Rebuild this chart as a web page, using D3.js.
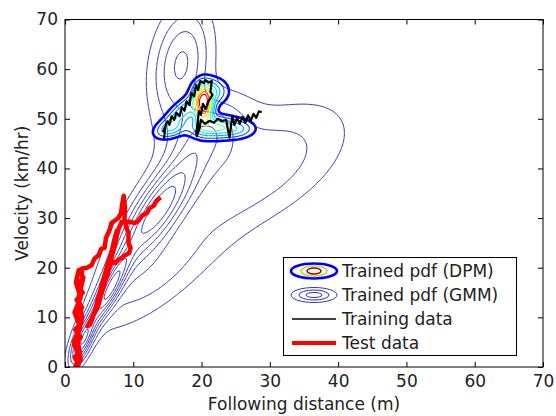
<!DOCTYPE html>
<html><head><meta charset="utf-8">
<script src="https://cdn.jsdelivr.net/npm/d3@7"></script>
<style>body{margin:0;background:#fff} text{font-family:"DejaVu Sans",sans-serif;fill:#222}</style>
</head><body><svg id="c" width="556" height="416"></svg>
<script>
// ---------- data ----------
const xTicks = [0, 10, 20, 30, 40, 50, 60, 70];
const yTicks = [0, 10, 20, 30, 40, 50, 60, 70];
const xLabel = "Following distance (m)";
const yLabel = "Velocity (km/hr)";
const legendLabels = ["Trained pdf (DPM)", "Trained pdf (GMM)", "Training data", "Test data"];

// GMM components (peak height, mean, spread, correlation)
const gmmMeanX = [2.5, 6.5, 13.5, 13.0, 28.0, 17.0, 21.0];
const gmmMeanY = [5.0, 15.5, 31.5, 18.0, 40.0, 61.0, 48.0];
const gmmSdX   = [1.3, 2.0, 4.2, 7.0, 9.0, 3.0, 4.0];
const gmmSdY   = [3.5, 5.0, 8.0, 8.0, 9.0, 8.0, 5.0];
const gmmRho   = [0.7, 0.85, 0.8, 0.75, 0.55, 0.25, 0.3];
const gmmPeak  = [0.6, 0.65, 0.7, 0.22, 0.28, 0.42, 0.25];
const gmmLevels = [0.1, 0.2, 0.3, 0.4, 0.5, 0.6, 0.7, 0.8];

// DPM components
const dpmMeanX = [20.3, 21.2, 17.5, 15.5, 21.5, 25.0];
const dpmMeanY = [52.8, 55.5, 51.5, 48.0, 48.3, 48.0];
const dpmSdX   = [0.8, 1.4, 1.8, 1.3, 2.0, 1.6];
const dpmSdY   = [2.2, 1.5, 2.2, 1.1, 1.3, 1.1];
const dpmRho   = [0.0, 0.0, 0.75, 0.3, 0.0, 0.0];
const dpmPeak  = [1.0, 0.3, 0.3, 0.22, 0.4, 0.2];
const dpmLevels = [0.04, 0.1, 0.18, 0.27, 0.37, 0.5, 0.64, 0.78, 0.92];
const dpmColors = ["#0000ff", "#0050ff", "#00a8ff", "#00e8ff", "#60ffa0", "#c0ff40", "#ffd000", "#ff6000", "#e00000"];

// training data (black)
const trainX = [14.5,14.7,14.4,15.0,15.3,15.6,16.0,16.3,16.8,17.1,17.5,17.8,18.2,18.5,18.9,19.2,19.5,19.8,20.3,20.6,21.0,21.5,21.3,21.6,21.0,20.6,20.2,19.9,19.6,19.4,19.2,19.5,19.3,19.7,19.9,20.5,21.2,21.8,22.4,23.0,23.6,23.9,24.1,24.3,24.5,24.8,25.2,25.6,26.0,26.4,26.8,27.2,27.6,28.0,28.4,28.8];
const trainY = [46.0,48.5,47.5,49.5,48.8,50.5,49.8,51.2,50.5,52.3,51.6,53.5,52.8,55.2,54.5,56.8,55.8,57.6,57.2,57.8,57.3,57.6,55.5,54.8,53.5,52.0,53.0,50.8,51.5,49.0,47.0,49.5,46.5,48.0,49.8,49.0,49.6,49.2,50.0,49.5,49.8,47.5,46.2,48.5,50.5,48.8,50.2,49.0,50.4,49.2,50.7,49.6,51.0,50.2,51.5,51.3];

// test data (red)
const testX = [1.3,2.0,1.4,2.2,1.3,2.3,1.5,2.4,1.6,2.5,1.7,2.6,1.8,2.7,2.0,1.6,2.3,1.4,2.2,1.3,2.1,1.6,2.3,1.8,2.5,2.0,2.6,2.4,3.2,3.9,4.3,4.9,5.3,5.8,6.0,6.5,6.8,7.3,7.8,8.2,8.4,8.6,8.8,8.7,9.0,9.3,9.3,9.6,9.4,8.8,8.3,7.8,7.4,6.9,6.5,6.2,5.8,5.4,5.0,4.7,4.3,3.8,3.3,3.7,4.2,4.8,5.2,5.6,6.0,6.3,6.6,7.0,7.3,7.6,7.2,6.8,6.3,5.9,5.5,5.1,4.7,4.5,5.0,5.5,6.0,6.5,6.9,7.3,7.6,7.9,8.3,8.9,9.5,10.2,10.8,11.3,12.0,12.4,13.0,13.4,14.0];
const testY = [0,0.5,2,3,4.5,6,7.5,9,10.5,12,13.5,15,16.5,18,19.5,17,14,11,8,5,2,0.3,1.5,6,10,14,17.5,19.8,20,20.5,21.8,22.5,23.8,24,26,27.5,29,29.5,30,31,33,34.5,32,30,28,27,25,24,23,22.5,22,21.5,21,21.2,20.2,18.5,17,15.5,14,12.5,11,9.5,8.2,8.6,10.5,12,14,16,18,20,22,24,26,27.5,25.5,23,21,19,17,15,13,11.5,13,15.5,18,20.5,22.5,24.5,26.5,28,29.2,29,29.3,29,29.5,30.5,31,32,32.5,33.5,34.2];

// ---------- layout ----------
const svg = d3.select("#c");
const L = 65, R = 543, T = 19.5, B = 367;
const x = d3.scaleLinear().domain([0, 70]).range([L, R]);
const y = d3.scaleLinear().domain([0, 70]).range([B, T]);

svg.append("defs").append("clipPath").attr("id", "clip")
  .append("rect").attr("x", L).attr("y", T).attr("width", R - L).attr("height", B - T);

function mixture(mx, my, sx, sy, rho, h) {
  return (px, py) => {
    let s = 0;
    for (let i = 0; i < mx.length; i++) {
      const dx = (px - mx[i]) / sx[i], dy = (py - my[i]) / sy[i], r = rho[i];
      const q = (dx * dx - 2 * r * dx * dy + dy * dy) / (1 - r * r);
      s += h[i] * Math.exp(-q / 2);
    }
    return s;
  };
}
const g0 = -10, step = 0.25, n = Math.round((90 - g0) / step) + 1;
function gridContours(f, levels) {
  const vals = new Float64Array(n * n);
  for (let j = 0; j < n; j++) for (let i = 0; i < n; i++) vals[j * n + i] = f(g0 + i * step, g0 + j * step);
  return d3.contours().size([n, n]).thresholds(levels)(vals);
}
const proj = d3.geoTransform({
  point(gx, gy) { this.stream.point(x(g0 + (gx - 0.5) * step), y(g0 + (gy - 0.5) * step)); }
});
const path = d3.geoPath(proj);

const plot = svg.append("g").attr("clip-path", "url(#clip)");

const gmmC = gridContours(mixture(gmmMeanX, gmmMeanY, gmmSdX, gmmSdY, gmmRho, gmmPeak), gmmLevels);
plot.append("g").selectAll("path").data(gmmC).join("path")
  .attr("d", path).attr("fill", "none").attr("stroke", "#3333b4").attr("stroke-width", 1);

const dpmC = gridContours(mixture(dpmMeanX, dpmMeanY, dpmSdX, dpmSdY, dpmRho, dpmPeak), dpmLevels);
plot.append("g").selectAll("path").data(dpmC).join("path")
  .attr("d", path).attr("fill", "none")
  .attr("stroke", (d, i) => dpmColors[i])
  .attr("stroke-width", (d, i) => i === 0 ? 2.6 : 1.1);

const line = d3.line().x(d => x(d[0])).y(d => y(d[1]));
plot.append("path").datum(trainX.map((v, i) => [v, trainY[i]]))
  .attr("d", line).attr("fill", "none").attr("stroke", "#000").attr("stroke-width", 2.2).attr("stroke-linejoin", "round");
plot.append("path").datum(testX.map((v, i) => [v, testY[i]]))
  .attr("d", line).attr("fill", "none").attr("stroke", "#ff0000").attr("stroke-width", 4.5).attr("stroke-linejoin", "round");

// axes
const fs = "17px";
const style = g => { g.select(".domain").remove(); g.selectAll("line").attr("stroke", "#000");
  g.selectAll("text").attr("font-size", fs).attr("fill", "#222").attr("font-family", "DejaVu Sans"); };
svg.append("g").attr("transform", `translate(0,${B})`)
  .call(d3.axisBottom(x).tickValues(xTicks).tickSizeInner(-5).tickSizeOuter(0).tickPadding(8)).call(style);
svg.append("g").attr("transform", `translate(${L},0)`)
  .call(d3.axisLeft(y).tickValues(yTicks).tickSizeInner(-5).tickSizeOuter(0).tickPadding(7)).call(style);
svg.append("g").attr("transform", `translate(0,${T})`)
  .call(d3.axisTop(x).tickValues(xTicks).tickSizeInner(-5).tickSizeOuter(0).tickFormat("")).call(style);
svg.append("g").attr("transform", `translate(${R},0)`)
  .call(d3.axisRight(y).tickValues(yTicks).tickSizeInner(-5).tickSizeOuter(0).tickFormat("")).call(style);
svg.append("rect").attr("x", L).attr("y", T).attr("width", R - L).attr("height", B - T)
  .attr("fill", "none").attr("stroke", "#000").attr("stroke-width", 1);

svg.append("text").attr("x", (L + R) / 2).attr("y", 410).attr("text-anchor", "middle").attr("font-size", fs).text(xLabel);
svg.append("text").attr("transform", `translate(28,${(T + B) / 2}) rotate(-90)`).attr("text-anchor", "middle").attr("font-size", fs).text(yLabel);

// legend
const lg = svg.append("g");
lg.append("rect").attr("x", 283.5).attr("y", 257.5).attr("width", 233).attr("height", 98)
  .attr("fill", "#fff").attr("stroke", "#000").attr("stroke-width", 1);
const rowY = [271, 295, 319, 343];
const iconX = 314;
[[23, 7.5, "#0000ff", 2.6], [13, 5, "#b8d840", 1.6], [7, 3, "#a00000", 1.6]].forEach(e =>
  lg.append("ellipse").attr("cx", iconX).attr("cy", rowY[0]).attr("rx", e[0]).attr("ry", e[1])
    .attr("fill", "none").attr("stroke", e[2]).attr("stroke-width", e[3]));
[[23, 7.5], [15, 5], [8, 2.5]].forEach(e =>
  lg.append("ellipse").attr("cx", iconX).attr("cy", rowY[1]).attr("rx", e[0]).attr("ry", e[1])
    .attr("fill", "none").attr("stroke", "#3333b4").attr("stroke-width", 1));
lg.append("line").attr("x1", 292).attr("x2", 336).attr("y1", rowY[2]).attr("y2", rowY[2]).attr("stroke", "#000").attr("stroke-width", 1.5);
lg.append("line").attr("x1", 292).attr("x2", 336).attr("y1", rowY[3]).attr("y2", rowY[3]).attr("stroke", "#ff0000").attr("stroke-width", 4);
lg.selectAll("text.l").data(legendLabels).join("text").attr("class", "l")
  .attr("x", 342).attr("y", (d, i) => rowY[i] + 6).attr("font-size", fs).text(d => d);
</script></body></html>
